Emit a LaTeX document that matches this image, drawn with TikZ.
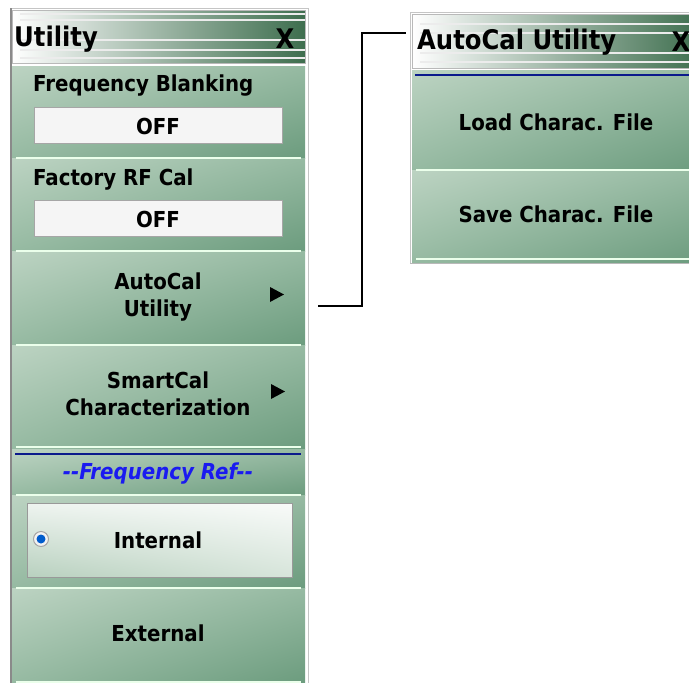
\documentclass[tikz,border=0pt]{standalone}
\usepackage{fontspec}
\setmainfont{DejaVu Sans Condensed}
\usetikzlibrary{shadings}
\definecolor{panelLight}{HTML}{BCD3C2}
\definecolor{panelMid}{HTML}{96BAA2}
\definecolor{panelDark}{HTML}{6C9C7E}
\definecolor{titleDark}{HTML}{3E6E4E}
\definecolor{refBlue}{HTML}{1A1AF0}
\definecolor{navyLine}{HTML}{0B1A8C}
\definecolor{frameGray}{HTML}{8A8A8A}
\tikzset{
  menusection/.style={shade, upper left=panelLight, upper right=panelMid, lower left=panelMid, lower right=panelDark},
  titlebar/.style={shade, left color=white, right color=titleDark, draw=frameGray!60},
  sepline/.style={white!92!green, line width=1.6pt},
  blueline/.style={navyLine, line width=2.6pt},
  stripe/.style={white!85!gray, line width=1.1pt},
  menutext/.style={font=\bfseries\fontsize{22}{27}\selectfont, align=center, inner sep=0pt},
  titletext/.style={font=\bfseries\fontsize{27}{30}\selectfont, inner sep=0pt},
  offbox/.style={fill=gray!8, draw=gray!70, line width=1pt},
  link/.style={black, line width=2.8pt},
}
\begin{document}
\begin{tikzpicture}[x=1pt,y=-1pt]
\useasboundingbox (0,0) rectangle (689,683);
\newcommand{\PanelL}{12}
\newcommand{\PanelR}{305}
\newcommand{\SubL}{412}
\newcommand{\SubR}{700}

%% Utility panel
\draw[frameGray, line width=2.2pt] (11,8) -- (11,683);% Left frame
\draw[frameGray!50, line width=0.8pt] (12,8) -- (308,8) -- (308,683);% Top and right frame
\draw[titlebar] (\PanelL,10) rectangle (\PanelR,63);% Title bar
\foreach \sy in {14,20,40,50,58}{
  \draw[stripe] (20,\sy) -- (\PanelR,\sy);
}
\fill[menusection] (\PanelL,66) rectangle (\PanelR,158);% Frequency Blanking
\fill[menusection] (\PanelL,158) rectangle (\PanelR,251);% Factory RF Cal
\fill[menusection] (\PanelL,251) rectangle (\PanelR,345);% AutoCal Utility
\fill[menusection] (\PanelL,345) rectangle (\PanelR,449);% SmartCal
\fill[menusection] (\PanelL,449) rectangle (\PanelR,495);% Frequency Ref
\fill[menusection] (\PanelL,495) rectangle (\PanelR,588);% Internal
\fill[menusection] (\PanelL,588) rectangle (\PanelR,683);% External

\foreach \sy in {158,251,345,447,495,588,682}{
  \draw[sepline] (16,\sy) -- (301,\sy);
}
\draw[blueline] (15,454) -- (301,454);

\node[titletext, anchor=west] (utilTitle) at (14,39) {Utility};
\node[titletext] (utilClose) at (285,39) {X};

\node[menutext, anchor=west] (freqBlank) at (33,86) {Frequency Blanking};
\draw[offbox] (34,107) rectangle (282,143);
\node[menutext] (offOne) at (158,126) {OFF};

\node[menutext, anchor=west] (factCal) at (33,180) {Factory RF Cal};
\draw[offbox] (34,200) rectangle (282,236);
\node[menutext] (offTwo) at (158,219) {OFF};

\node[menutext] (autoCal) at (158,297) {AutoCal\\Utility};
\coordinate (arrowAuto) at (270,287);
\fill (arrowAuto) -- ++(14,7.5) -- ++(-14,7.5) -- cycle;

\node[menutext] (smartCal) at (158,394) {SmartCal\\Characterization};
\coordinate (arrowSmart) at (271,384);
\fill (arrowSmart) -- ++(14,7.5) -- ++(-14,7.5) -- cycle;

\node[menutext, font=\bfseries\itshape\fontsize{22}{27}\selectfont, text=refBlue] (freqRef) at (158,474) {-{}-Frequency Ref-{}-};

\draw[shade, upper left=white!75!panelLight, upper right=white!90!panelLight, lower left=panelLight!90!panelMid, lower right=white!40!panelLight, draw=gray!80, line width=1pt] (27,503) rectangle (292,577);% Internal button
\coordinate (radioDot) at (41,539);
\filldraw[fill=white!90!gray, draw=gray!70, line width=1pt] (radioDot) circle(7.5);
\fill[blue!55!cyan!80!black] (radioDot) circle(4.5);
\node[menutext] (internal) at (158,540) {Internal};

\node[menutext] (external) at (158,633) {External};

%% AutoCal Utility sub menu
\draw[frameGray!50, line width=0.8pt] (410,263) -- (410,12) -- (\SubR,12);% Frame
\draw[titlebar] (\SubL,14) rectangle (\SubR,68);% Title bar
\foreach \sy in {24,33,53,62}{
  \draw[stripe] (420,\sy) -- (\SubR,\sy);
}
\fill[menusection] (\SubL,70) rectangle (\SubR,170);% Load
\fill[menusection] (\SubL,170) rectangle (\SubR,262);% Save
\draw[blueline] (415,75) -- (\SubR,75);
\draw[sepline] (416,170) -- (\SubR,170);
\draw[sepline] (416,259) -- (\SubR,259);
\draw[frameGray!60, line width=0.8pt] (410,263) -- (\SubR,263);

\node[titletext, anchor=west] (acTitle) at (417,42) {AutoCal Utility};
\node[titletext] (acClose) at (681,42) {X};
\node[menutext] (loadFile) at (556,122) {Load Charac. File};
\node[menutext] (saveFile) at (556,214) {Save Charac. File};

%% Connector
\coordinate (linkStart) at (318,306);
\coordinate (linkEnd) at (406,33);
\draw[link] (linkStart) -- ++(44,0) |- (linkEnd);
\end{tikzpicture}
\end{document}
